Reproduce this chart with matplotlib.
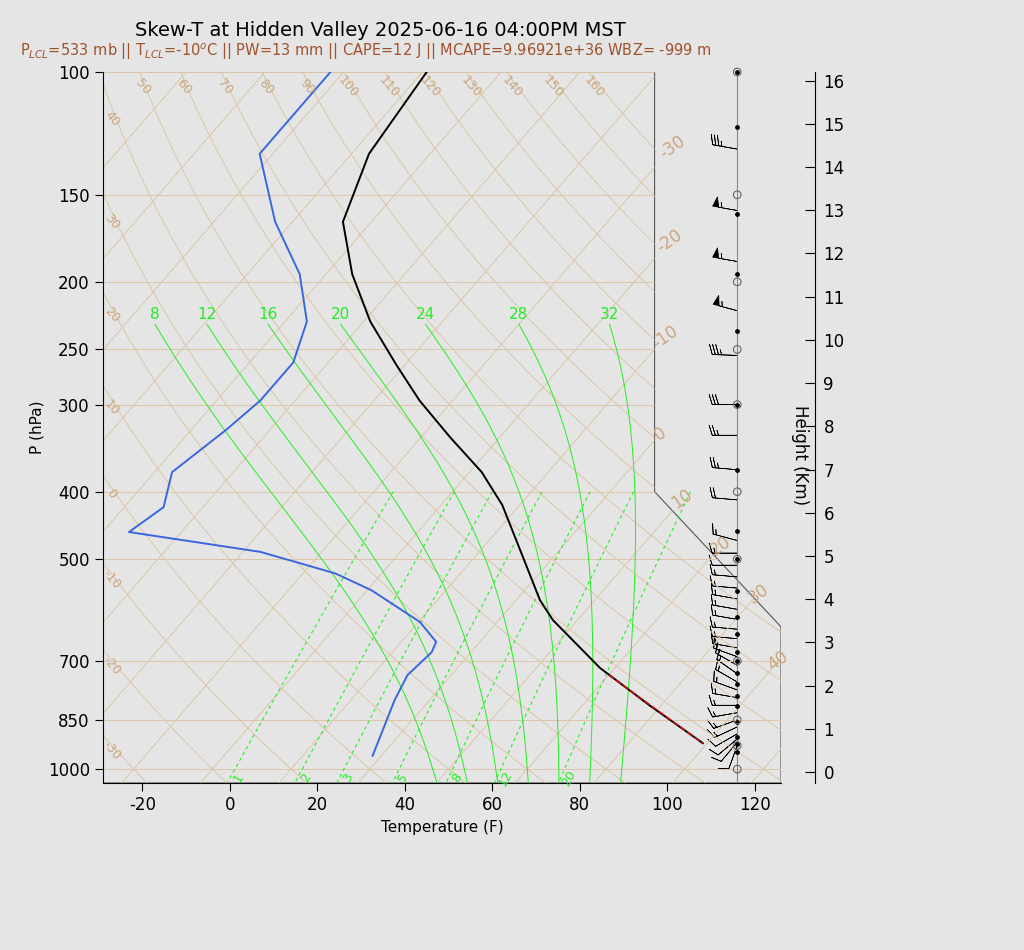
import numpy as np
import matplotlib.pyplot as plt
from matplotlib.patches import Polygon

plt.rcParams['axes.unicode_minus'] = False

# Skew-T sounding, Hidden Valley 2025-06-16 04:00PM MST
SKEW = 138.0  # deg F of skew per decade of pressure
P_TOP, P_BOT = 100, 1047
X_MIN, X_MAX = -29, 126

# temperature profile (F)
t_p = [100, 131, 164, 195, 228, 263, 296, 334, 375, 418, 485, 572, 611, 716, 810, 918]
t_f = [-93, -90, -82.5, -70, -56.5, -42, -29.6, -15.4, -1.2, 10, 23, 37.4, 44.3, 64.6, 83.3, 103]

# dewpoint profile (F)
td_p = [100, 131, 164, 195, 228, 261, 296, 326, 375, 421, 457, 488, 524, 554, 615, 657, 680, 733, 796, 957]
td_f = [-115, -115, -98, -82, -71, -66, -66, -68, -72, -67, -70, -36, -14.6, -3, 14.3, 22, 23, 22, 24, 30]

# parcel segment (red dashed)
parcel_p = [733, 918]
parcel_f = [68, 103]

# winds: pressure, speed (kt), direction (deg)
wind_p = [129, 158, 187, 220, 255, 300, 332, 372, 411, 470, 490, 510, 530, 550, 570, 590, 610, 630, 650,
          670, 690, 710, 730, 750, 770, 790, 810, 830, 850, 870, 890, 905, 915, 925]
wind_spd = [35, 55, 55, 55, 35, 30, 25, 25, 20, 15, 15, 10, 15, 15, 15, 15, 15, 15, 15,
            15, 15, 15, 15, 15, 15, 15, 15, 15, 15, 15, 10, 10, 10, 10]
wind_dir = [280, 280, 280, 285, 272, 270, 270, 275, 275, 285, 270, 270, 275, 275, 280, 280, 280, 275, 275,
            280, 290, 300, 305, 300, 290, 280, 270, 260, 250, 245, 240, 230, 220, 200]

# sounding level dots and mandatory-level circles
dot_p = [100, 120, 160, 195, 235, 300, 372, 455, 500, 555, 605, 640, 680, 700, 727, 755, 785, 812, 855, 900, 920, 945]
circ_p = [100, 150, 200, 250, 300, 400, 500, 700, 850, 925, 1000]

isobars = [100, 150, 200, 250, 300, 400, 500, 700, 850, 1000]
isotherms_c = np.arange(-100, 60, 10)
dry_theta_c = np.arange(-30, 170, 10)
moist_tw_c = [8, 12, 16, 20, 24, 28, 32]
mix_ratio = [1, 2, 3, 5, 8, 12, 20]

TAN = '#dcc6a6'
LABEL_TAN = '#c9a67e'
GREEN = '#22ee22'
BG = '#e5e5e5'


def skewx(tf, p):
    return np.asarray(tf) + SKEW * np.log10(1000.0 / np.asarray(p))


def c2f(c):
    return np.asarray(c) * 9 / 5 + 32


def es(tc):
    return 6.112 * np.exp(17.67 * tc / (tc + 243.5))


def moist_adiabat(tw_c, pres):
    # integrate from 1000 hPa both ways
    Rd, Cp, Lv, eps = 287.0, 1005.0, 2.5e6, 0.622
    def dtdp(t, p):
        rs = eps * es(t - 273.15) / (p - es(t - 273.15))
        return (Rd * t + Lv * rs) / (p * (Cp + Lv * Lv * rs * eps / (Rd * t * t)))
    out = {}
    for direction in (-1, 1):
        t, p = tw_c + 273.15, 1000.0
        out[p] = t
        while (direction < 0 and p > pres.min()) or (direction > 0 and p < pres.max()):
            dp = direction * 2.0
            t += dtdp(t, p) * dp
            p += dp
            out[p] = t
    ps = np.array(sorted(out))
    ts = np.array([out[k] for k in ps])
    return np.interp(pres, ps, ts) - 273.15


fig = plt.figure(figsize=(10.24, 9.5), dpi=100, facecolor=BG)
ax = fig.add_axes([103 / 1024, 0.1758, 678 / 1024, 0.7484])
ax.set_facecolor(BG)
ax.set_yscale('log')
ax.set_ylim(P_BOT, P_TOP)
ax.set_xlim(X_MIN, X_MAX)

clip = Polygon([(X_MIN, P_TOP), (97.1, P_TOP), (97.1, 400), (X_MAX, 625), (X_MAX, P_BOT), (X_MIN, P_BOT)],
               closed=True, transform=ax.transData, fill=False, edgecolor='#555555', lw=0.8)
ax.add_patch(clip)

pp = np.logspace(np.log10(P_TOP), np.log10(P_BOT), 200)

for p in isobars:
    ln, = ax.plot([X_MIN, X_MAX], [p, p], color=TAN, lw=0.7)
    ln.set_clip_path(clip)

# isotherms
for tc in isotherms_c:
    ln, = ax.plot(skewx(c2f(tc), pp), pp, color=TAN, lw=0.7)
    ln.set_clip_path(clip)
# isotherm labels along right boundary
for tc, p in zip([-30, -20, -10, 0, 10, 20, 30, 40], [128, 175, 240, 330, 410, 478, 560, 700]):
    ax.text(skewx(c2f(tc), p), p, str(tc), color=LABEL_TAN, fontsize=12, rotation=35,
            ha='center', va='center')

# dry adiabats
for th in dry_theta_c:
    tk = (th + 273.15) * (pp / 1000.0) ** 0.286
    ln, = ax.plot(skewx(c2f(tk - 273.15), pp), pp, color=TAN, lw=0.7)
    ln.set_clip_path(clip)
    xs = skewx(c2f(tk - 273.15), pp)
    if th < 50:
        i = np.argmin(np.abs(xs - (X_MIN + 3)))
        ax.text(X_MIN + 2, pp[i], str(th), color=LABEL_TAN, fontsize=9, rotation=-50, ha='center', va='center')
    else:
        ax.text(xs[2], 105, str(th), color=LABEL_TAN, fontsize=9, rotation=-50, ha='center', va='center')

# mixing ratio lines
pm = np.logspace(np.log10(400), np.log10(P_BOT), 60)
for w in mix_ratio:
    e = w * pm / (622.0 + w)
    lg = np.log(e / 6.112)
    td = 243.5 * lg / (17.67 - lg)
    ax.plot(skewx(c2f(td), pm), pm, color=GREEN, lw=0.8, ls=(0, (3, 3)))
    e0 = w * 1030 / (622.0 + w)
    l0 = np.log(e0 / 6.112)
    ax.text(skewx(c2f(243.5 * l0 / (17.67 - l0)), 1030) + 2, 1030, str(w), color=GREEN, fontsize=9,
            rotation=60, ha='center', va='center')

# moist adiabats
pw = np.logspace(np.log10(230), np.log10(P_BOT), 150)
for tw in moist_tw_c:
    tc = moist_adiabat(tw, pw)
    ax.plot(skewx(c2f(tc), pw), pw, color=GREEN, lw=0.7)
    ax.text(skewx(c2f(tc[0]), 230), 228, str(tw), color=GREEN, fontsize=11, ha='center', va='bottom')

ax.plot(skewx(td_f, td_p), td_p, color='#3a66e0', lw=1.4)
ax.plot(skewx(t_f, t_p), t_p, color='black', lw=1.4)
ax.plot(skewx(parcel_f, parcel_p), parcel_p, color='#d01010', lw=1.2, ls='--')

# wind column
xw = 116
ax.plot([xw, xw], [P_TOP, P_BOT], color='#888888', lw=0.8, clip_on=False)
d = np.deg2rad(wind_dir)
u = -np.array(wind_spd) * np.sin(d)
v = -np.array(wind_spd) * np.cos(d)
ax.barbs(np.full(len(wind_p), xw), wind_p, u, v, length=6, lw=0.5, color='black', clip_on=False)
ax.scatter(np.full(len(dot_p), xw), dot_p, s=6, color='black', zorder=5, clip_on=False)
ax.scatter(np.full(len(circ_p), xw), circ_p, s=30, facecolor='none', edgecolor='#666666', lw=0.8,
           zorder=5, clip_on=False)

ax.set_yticks(isobars)
ax.set_yticklabels([str(p) for p in isobars], fontsize=12)
ax.minorticks_off()
ax.set_xticks(np.arange(-20, 121, 20))
ax.tick_params(axis='x', labelsize=12, length=6)
ax.tick_params(axis='y', length=6)
ax.set_xlabel('Temperature (F)', fontsize=11)
ax.set_ylabel('P (hPa)', fontsize=11, labelpad=2)
ax.spines['top'].set_visible(False)
ax.spines['right'].set_visible(False)

# height axis
ax2 = fig.add_axes([815 / 1024, 0.1758, 0.0001, 0.7484])
ax2.set_ylim(-0.255, 16.2)
ax2.set_xticks([])
for s in ['top', 'bottom', 'left']:
    ax2.spines[s].set_visible(False)
ax2.yaxis.tick_right()
ax2.set_yticks(range(0, 17))
ax2.tick_params(axis='y', direction='in', length=7, labelsize=12, pad=6)
fig.text(800 / 1024, 1 - 455 / 950, 'Height (Km)', rotation=-90, fontsize=12, ha='center', va='center')

fig.text(380 / 1024, 1 - 30 / 950, 'Skew-T at Hidden Valley 2025-06-16 04:00PM MST', fontsize=14,
         ha='center', va='center')
fig.text(366 / 1024, 1 - 52 / 950,
         r'P$_{LCL}$=533 mb || T$_{LCL}$=-10$^{o}$C || PW=13 mm || CAPE=12 J || MCAPE=9.96921e+36 WBZ= -999 m',
         fontsize=10.5, color='#a0522d', ha='center', va='center')

fig.savefig('out.png', dpi=100, facecolor=BG)
